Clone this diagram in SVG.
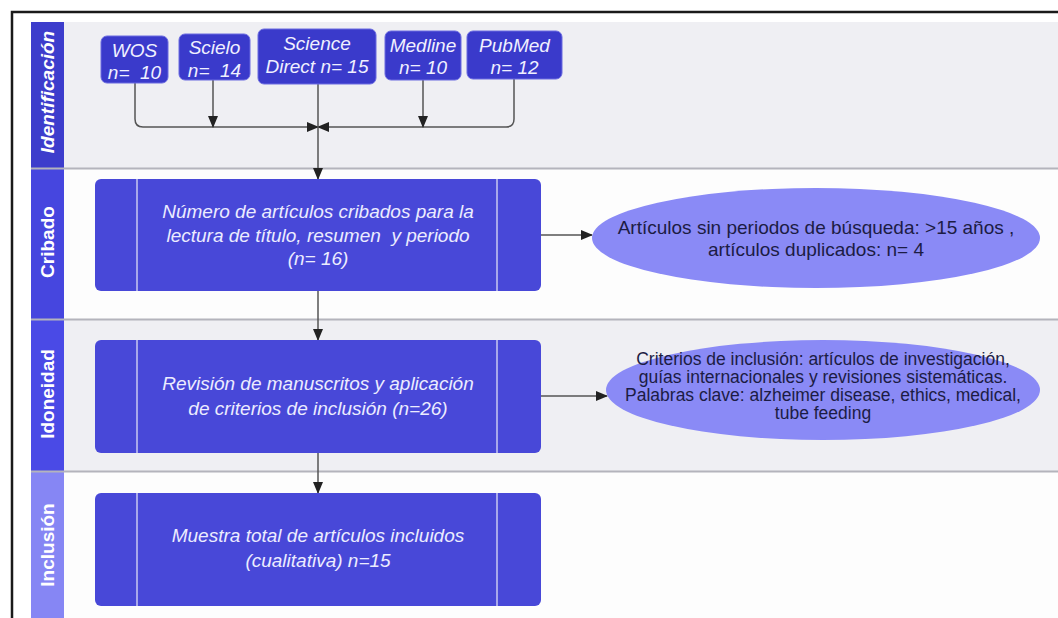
<svg xmlns="http://www.w3.org/2000/svg" width="1058" height="618" viewBox="0 0 1058 618">
<style>
.lane-label{font-family:"Liberation Sans",Arial,sans-serif;font-size:19px;font-weight:bold;fill:#ffffff;text-anchor:middle}
.src{fill:#3a3acb;stroke:#6a6ae0;stroke-width:1}
.src-t{font-family:"Liberation Sans",Arial,sans-serif;font-size:19px;font-style:italic;fill:#f0f0ff;text-anchor:middle}
.box{fill:#4848d8}
.inner{stroke:#c8c8f2;stroke-width:1.5}
.box-t{font-family:"Liberation Sans",Arial,sans-serif;font-size:19px;font-style:italic;fill:#ececff;text-anchor:middle}
.ell{fill:#8a8af6}
.ell-t{font-family:"Liberation Sans",Arial,sans-serif;fill:#1c1c44;text-anchor:middle}
.sep{stroke:#b4b4bc;stroke-width:2}
.conn{fill:none;stroke:#555;stroke-width:1.5}
</style>
<defs>
<marker id="arr" markerWidth="12" markerHeight="10" refX="11" refY="5" orient="auto" markerUnits="userSpaceOnUse">
<path d="M0,0 L12,5 L0,10 Z" fill="#222"/>
</marker>
</defs>
<rect width="1058" height="618" fill="#ffffff"/>
<g id="lanes">
<rect x="31" y="22" width="1027" height="146" fill="#efeff3"/>
<rect x="31" y="169" width="1027" height="150" fill="#fdfdfd"/>
<rect x="31" y="320" width="1027" height="151" fill="#efeff3"/>
<rect x="31" y="472" width="1027" height="146" fill="#fdfdfd"/>
<rect x="31" y="22" width="33" height="146" fill="#3d3dcc"/>
<rect x="31" y="169" width="33" height="150" fill="#4646df"/>
<rect x="31" y="320" width="33" height="151" fill="#4a4ae6"/>
<rect x="31" y="472" width="33" height="146" fill="#8686f4"/>
<line class="sep" x1="31" y1="168.5" x2="1058" y2="168.5"/>
<line class="sep" x1="31" y1="319.5" x2="1058" y2="319.5"/>
<line class="sep" x1="31" y1="471.5" x2="1058" y2="471.5"/>
<text class="lane-label" transform="translate(54,92) rotate(-90)" font-style="italic">Identificación</text>
<text class="lane-label" transform="translate(54,242) rotate(-90)">Cribado</text>
<text class="lane-label" transform="translate(54,394) rotate(-90)">Idoneidad</text>
<text class="lane-label" transform="translate(54,545) rotate(-90)" fill="#f4f4ff">Inclusión</text>
</g>
<path d="M12,618 V12 H1058" fill="none" stroke="#1a1a1a" stroke-width="2.5"/>
<g id="connectors">
<path class="conn" d="M135,83 V119 Q135,127 143,127 H318" marker-end="url(#arr)"/>
<path class="conn" d="M514,79 V119 Q514,127 506,127 H318" marker-end="url(#arr)"/>
<path class="conn" d="M213,80 V127" marker-end="url(#arr)"/>
<path class="conn" d="M423,80 V127" marker-end="url(#arr)"/>
<path class="conn" d="M318,84 V179" marker-end="url(#arr)"/>
<path class="conn" d="M541,235 H592" marker-end="url(#arr)"/>
<path class="conn" d="M318,291 V340" marker-end="url(#arr)"/>
<path class="conn" d="M541,396 H607" marker-end="url(#arr)"/>
<path class="conn" d="M318,453 V493" marker-end="url(#arr)"/>
</g>
<g id="wos">
<rect class="src" x="101" y="36" width="67" height="47" rx="6"/>
<text class="src-t" x="134.5" y="57">WOS</text>
<text class="src-t" x="134.5" y="79" xml:space="preserve">n=  10</text>
</g>
<g id="scielo">
<rect class="src" x="179" y="34" width="71" height="46" rx="6"/>
<text class="src-t" x="214.5" y="54">Scielo</text>
<text class="src-t" x="214.5" y="77" xml:space="preserve">n=  14</text>
</g>
<g id="sciencedirect">
<rect class="src" x="258" y="29" width="118" height="55" rx="6"/>
<text class="src-t" x="317" y="50">Science</text>
<text class="src-t" x="317" y="73">Direct n= 15</text>
</g>
<g id="medline">
<rect class="src" x="385" y="31" width="76" height="49" rx="6"/>
<text class="src-t" x="423" y="52">Medline</text>
<text class="src-t" x="423" y="74">n= 10</text>
</g>
<g id="pubmed">
<rect class="src" x="467" y="31" width="95" height="48" rx="6"/>
<text class="src-t" x="514.5" y="52">PubMed</text>
<text class="src-t" x="514.5" y="74">n= 12</text>
</g>
<g id="cribado">
<rect class="box" x="95" y="179" width="446" height="112" rx="6"/>
<line class="inner" x1="137" y1="179" x2="137" y2="291"/>
<line class="inner" x1="497" y1="179" x2="497" y2="291"/>
<text class="box-t" x="318" y="218">Número de artículos cribados para la</text>
<text class="box-t" x="318" y="242" xml:space="preserve">lectura de título, resumen  y periodo</text>
<text class="box-t" x="318" y="265">(n= 16)</text>
</g>
<g id="excluidos">
<ellipse class="ell" cx="816" cy="238" rx="224" ry="50"/>
<text class="ell-t" x="816" y="234" font-size="19">Artículos sin periodos de búsqueda: &gt;15 años ,</text>
<text class="ell-t" x="816" y="256" font-size="19">artículos duplicados: n= 4</text>
</g>
<g id="idoneidad">
<rect class="box" x="95" y="340" width="446" height="113" rx="6"/>
<line class="inner" x1="137" y1="340" x2="137" y2="453"/>
<line class="inner" x1="497" y1="340" x2="497" y2="453"/>
<text class="box-t" x="318" y="390">Revisión de manuscritos y aplicación</text>
<text class="box-t" x="318" y="415">de criterios de inclusión (n=26)</text>
</g>
<g id="criterios">
<ellipse class="ell" cx="823" cy="390" rx="217" ry="50"/>
<text class="ell-t" x="823" y="365" font-size="17.5">Criterios de inclusión: artículos de investigación,</text>
<text class="ell-t" x="823" y="383" font-size="17.5">guías internacionales y revisiones sistemáticas.</text>
<text class="ell-t" x="823" y="401" font-size="17.5">Palabras clave: alzheimer disease, ethics, medical,</text>
<text class="ell-t" x="823" y="419" font-size="17.5">tube feeding</text>
</g>
<g id="inclusion">
<rect class="box" x="95" y="493" width="446" height="113" rx="6"/>
<line class="inner" x1="137" y1="493" x2="137" y2="606"/>
<line class="inner" x1="497" y1="493" x2="497" y2="606"/>
<text class="box-t" x="318" y="542">Muestra total de artículos incluidos</text>
<text class="box-t" x="318" y="567">(cualitativa) n=15</text>
</g>
</svg>
